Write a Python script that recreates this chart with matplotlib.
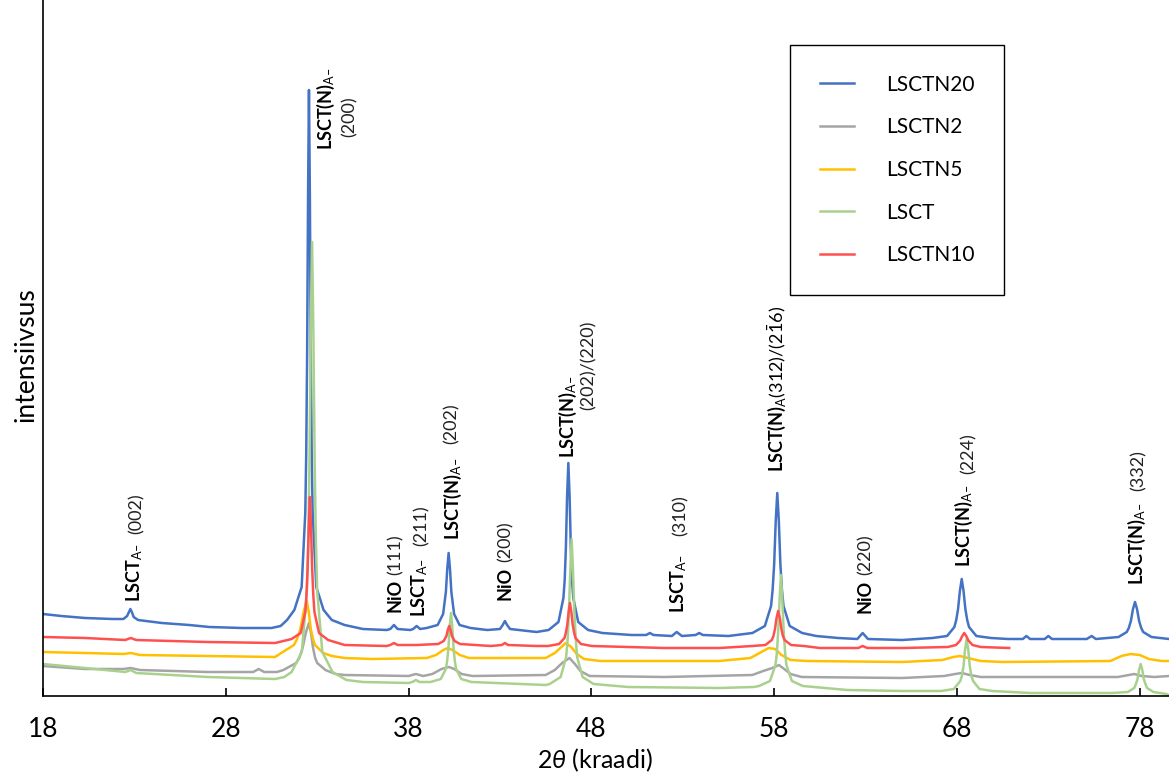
import matplotlib
matplotlib.use("Agg")
import matplotlib.pyplot as plt

plt.rcParams['font.family'] = ['Lato', 'DejaVu Sans']
plt.rcParams['mathtext.fontset'] = 'custom'
plt.rcParams['mathtext.rm'] = 'Lato'
plt.rcParams['mathtext.it'] = 'Lato:italic'
plt.rcParams['mathtext.bf'] = 'Lato:bold'
plt.rcParams['mathtext.fallback'] = 'stix'

# ---------------- data (2theta, intensity a.u.) ----------------
lsctn20 = [(18.0,82),(19.0,80),(20.3,78),(21.8,77),(22.4,77),(22.6,80),(22.7,84),(22.78,87),(22.86,84),(22.96,79),
           (23.2,76),(24.5,73),(26.0,71),(27.1,69),(28.9,68),(30.5,68),(31.0,70),(31.35,76),(31.75,86),(32.15,109),
           (32.35,184),(32.4,242),(32.45,342),(32.5,500),(32.55,606),(32.6,500),(32.65,342),(32.7,242),(32.75,184),
           (32.95,109),(33.35,86),(33.8,76),(34.5,71),(35.5,67),(36.8,66),(37.0,67),(37.2,71),(37.4,67),(38.1,66),
           (38.25,67),(38.44,70),(38.63,67),(38.99,68),(39.59,71),(39.89,82),(40.04,104),(40.115,127),(40.19,143),
           (40.265,127),(40.34,104),(40.49,82),(40.79,71),(41.39,68),(42.3,66),(43.0,67),(43.15,71),(43.27,75),
           (43.39,71),(43.55,67),(45.0,64),(45.66,66),(46.2,74),(46.47,98),(46.54,116),(46.605,148),(46.67,199),
           (46.74,233),(46.81,199),(46.875,148),(46.94,116),(47.01,98),(47.28,74),(47.82,66),(48.6,63),(50.2,61),
           (51.0,61),(51.2,63),(51.4,61),(52.4,60),(52.67,64),(52.95,60),(53.7,61),(53.9,63),(54.1,61),(55.5,60),
           (56.81,63),(57.49,70),(57.83,90),(57.915,106),(58.0,132),(58.085,175),(58.17,203),(58.255,175),(58.34,132),
           (58.425,106),(58.51,90),(58.85,70),(59.53,63),(60.3,60),(61.5,58),(62.55,57),(62.84,63),(63.13,57),
           (65.0,56),(66.66,58),(67.46,60),(67.86,69),(67.96,76),(68.06,87),(68.16,105),(68.26,117),(68.36,105),
           (68.46,87),(68.56,76),(68.66,69),(69.06,60),(69.86,58),(70.8,57),(71.6,57),(71.8,60),(72.0,57),(72.8,57),
           (73.0,60),(73.2,57),(75.1,57),(75.37,60),(75.6,57),(76.84,59),(77.29,64),(77.4,68),(77.515,75),(77.63,87),
           (77.74,94),(77.85,87),(77.965,75),(78.08,68),(78.19,64),(78.64,59),(79.6,57)]

lsctn2 = [(18.0,30),(20.3,27),(22.4,27),(22.8,28),(23.3,26),(27.0,24),(29.5,24),(29.8,27),(30.1,24),(30.8,24),
          (31.15,26),(31.85,33),(32.02,38),(32.2,48),(32.375,63),(32.55,73),(32.66,63),(32.775,48),(32.89,38),
          (33.0,33),(33.45,26),(34.0,22),(34.5,21),(38.0,20),(38.4,22),(38.8,20),(39.3,22),(39.8,27),(40.2,29),
          (40.5,27),(40.9,22),(41.5,20),(45.5,21),(46.0,26),(46.4,33),(46.8,38),(47.1,32),(47.4,25),(47.9,20),
          (52.0,19),(56.8,21),(57.4,25),(57.9,28),(58.26,31),(58.55,27),(58.9,22),(59.5,19),(65.0,18),(67.3,20),
          (67.9,22),(68.26,23),(68.7,21),(69.3,19),(70.0,19),(76.8,19),(77.4,21),(77.7,22),(78.1,20),(78.8,19),
          (79.6,20)]

lsctn5 = [(18.0,44),(20.3,43),(22.4,42),(22.8,43),(23.3,41),(27.0,40),(30.7,39),(31.03,43),(31.73,51),(31.9,57),
          (32.08,67),(32.255,84),(32.43,95),(32.54,84),(32.65,67),(32.77,57),(32.88,51),(33.33,43),(33.8,40),
          (34.5,38),(36.0,37),(39.0,38),(39.5,41),(39.9,46),(40.15,48),(40.4,46),(40.8,41),(41.3,38),(45.5,38),
          (46.0,43),(46.3,48),(46.6,53),(46.9,49),(47.2,42),(47.6,37),(48.5,35),(55.0,35),(56.7,38),(57.3,44),
          (57.7,48),(58.05,47),(58.4,41),(58.9,36),(59.8,35),(65.0,34),(67.2,36),(67.8,39),(68.16,40),(68.6,38),
          (69.3,35),(70.5,34),(76.4,35),(77.0,40),(77.5,42),(78.0,41),(78.5,37),(79.2,35),(79.6,35)]

lsct = [(18.0,32),(20.3,28),(22.5,24),(22.8,26),(23.1,23),(27.0,19),(30.7,17),(31.2,19),(31.6,24),(32.16,44),
        (32.44,105),(32.51,153),(32.58,236),(32.65,367),(32.72,454),(32.79,367),(32.86,236),(32.93,153),(33.0,105),
        (33.28,44),(33.84,24),(34.6,16),(35.5,14),(38.0,13),(38.2,14),(38.4,16),(38.6,14),(39.2,14),(39.76,17),
        (40.04,27),(40.11,35),(40.18,48),(40.25,69),(40.32,83),(40.39,69),(40.46,48),(40.53,35),(40.6,27),
        (40.88,17),(41.44,14),(45.5,11),(45.72,12),(46.32,19),(46.62,39),(46.7,56),(46.77,84),(46.85,128),
        (46.92,157),(46.99,128),(47.07,84),(47.15,56),(47.22,39),(47.52,19),(48.12,12),(50.0,9),(55.0,8),(56.9,9),
        (57.17,10),(57.77,15),(58.07,31),(58.15,43),(58.22,65),(58.3,98),(58.37,121),(58.44,98),(58.52,65),
        (58.6,43),(58.67,31),(58.97,15),(59.57,10),(62.0,6),(65.0,5),(67.13,5),(67.83,7),(68.18,15),(68.27,20),
        (68.36,30),(68.44,46),(68.53,57),(68.62,46),(68.7,30),(68.79,20),(68.88,15),(69.23,7),(69.93,5),(72.0,3),
        (76.5,3),(77.35,4),(77.7,8),(77.79,12),(77.88,17),(77.96,26),(78.05,32),(78.14,26),(78.22,17),(78.31,12),
        (78.4,8),(78.75,4),(79.45,2),(79.6,1)]

lsctn10 = [(18.0,59),(20.3,58),(22.5,56),(22.8,58),(23.1,56),(25.0,55),(27.0,54),(30.7,53),(31.6,57),(32.1,63),
           (32.35,84),(32.41,100),(32.475,127),(32.54,170),(32.6,199),(32.66,170),(32.725,127),(32.79,100),
           (32.85,84),(33.1,63),(33.6,56),(34.5,51),(36.8,50),(37.0,51),(37.2,53),(37.4,51),(38.44,51),(39.62,52),
           (39.92,55),(40.07,60),(40.145,66),(40.22,70),(40.295,66),(40.37,60),(40.52,55),(40.82,52),(42.5,50),
           (43.1,51),(43.27,53),(43.44,51),(45.0,50),(45.63,50),(46.23,52),(46.53,58),(46.6,63),(46.68,71),
           (46.755,84),(46.83,93),(46.905,84),(46.98,71),(47.06,63),(47.13,58),(47.43,52),(48.03,50),(52.0,48),
           (55.0,48),(56.82,50),(57.52,51),(57.87,56),(57.96,60),(58.045,67),(58.13,78),(58.22,85),(58.31,78),
           (58.395,67),(58.48,60),(58.57,56),(58.92,51),(59.62,50),(60.5,48),(62.6,48),(62.84,50),(63.1,48),
           (65.0,48),(67.5,49),(67.95,51),(68.175,55.5),(68.29,60),(68.4,63),(68.51,60),(68.625,55.5),(68.85,51),
           (69.3,49),(70.86,48)]

series_names = ["LSCTN20", "LSCTN2", "LSCTN5", "LSCT", "LSCTN10"]
series_data = [lsctn20, lsctn2, lsctn5, lsct, lsctn10]
series_colors = ["#4472C4", "#A5A5A5", "#FFC000", "#A9D18E", "#FF5050"]

x_ticks = [18, 28, 38, 48, 58, 68, 78]

# peak annotations: (2theta, intensity at text start, text, bold?)
ann_x = [23.03, 23.11, 33.48, 34.79, 37.26, 37.30, 38.62, 38.73, 40.43, 40.36, 43.27, 43.30,
         46.72, 47.87, 52.79, 52.90, 58.15, 62.97, 63.00, 68.38, 68.66, 77.85, 77.96]
ann_y = [94, 162, 546, 559, 84, 121, 79, 150, 156, 252, 96, 134,
         238, 286, 83, 160, 224, 83, 121, 129, 222, 111, 205]
ann_text = ["LSCT$_{\\mathrm{A\u2013}}$", "(002)",
            "LSCT(N)$_{\\mathrm{A\u2013}}$", "(200)",
            "NiO", "(111)",
            "LSCT$_{\\mathrm{A\u2013}}$", "(211)",
            "LSCT(N)$_{\\mathrm{A\u2013}}$", "(202)",
            "NiO", "(200)",
            "LSCT(N)$_{\\mathrm{A\u2013}}$", "(202)/(220)",
            "LSCT$_{\\mathrm{A\u2013}}$", "(310)",
            "LSCT(N)$_{\\mathrm{A}}\\mathrm{(312)/(2}\\bar{\\mathrm{1}}\\mathrm{6)}$",
            "NiO", "(220)",
            "LSCT(N)$_{\\mathrm{A\u2013}}$", "(224)",
            "LSCT(N)$_{\\mathrm{A\u2013}}$", "(332)"]
ann_bold = [True, False, True, False, True, False, True, False, True, False, True, False,
            True, False, True, False, True, True, False, True, False, True, False]

# ---------------- figure ----------------
W, H = 1169, 775
fig = plt.figure(figsize=(W / 100, H / 100), dpi=100)
ax = fig.add_axes([43 / W, 79 / H, 1126 / W, 696 / H])

for name, pts, color in zip(series_names, series_data, series_colors):
    xs = [p[0] for p in pts]
    ys = [p[1] for p in pts]
    ax.plot(xs, ys, color=color, lw=1.8, label=name, solid_joinstyle='round')

ax.set_xlim(18, 79.6)
ax.set_ylim(0, 696)

for s in ['top', 'right']:
    ax.spines[s].set_visible(False)
for s in ['left', 'bottom']:
    ax.spines[s].set_linewidth(1.2)
    ax.spines[s].set_color('black')

ax.set_xticks(x_ticks)
ax.set_yticks([])
ax.tick_params(axis='x', direction='in', length=6, width=1.2, pad=15, labelsize=19, colors='black')

ax.set_xlabel("2$\\theta$ (kraadi)", fontsize=18)
ax.xaxis.set_label_coords(0.49, -79 / 696 + 0.001)
ax.xaxis.label.set_va('bottom')
ax.set_ylabel("intensiivsus", fontsize=19)
ax.yaxis.set_label_coords(-0.004, 0.49)

for x, y, t, b in zip(ann_x, ann_y, ann_text, ann_bold):
    ax.text(x, y, t, rotation=90, ha='center', va='bottom', fontsize=13,
            fontweight='bold' if b else 'normal', color='black' if b else '#222222')

leg = ax.legend(loc='upper left', bbox_to_anchor=(790 / W, 1 - 45 / H), bbox_transform=fig.transFigure,
                borderaxespad=0, frameon=True, fancybox=False, edgecolor='black', fontsize=15,
                handlelength=1.65, handletextpad=1.55, labelspacing=1.09, borderpad=1.42, framealpha=1)
leg.get_frame().set_linewidth(1.0)

fig.savefig("out.png", dpi=100, facecolor='white')
